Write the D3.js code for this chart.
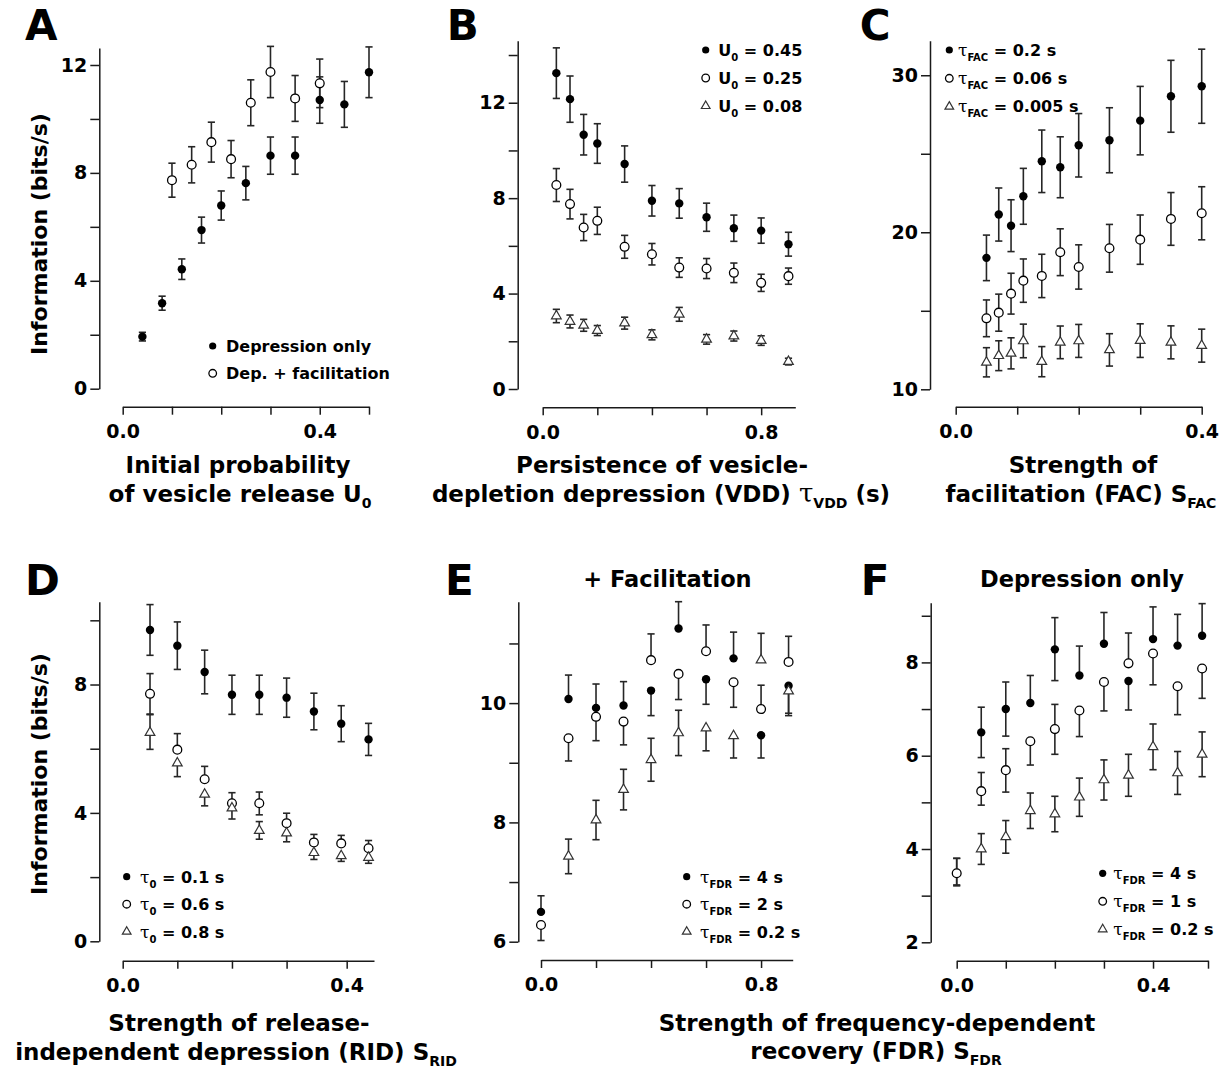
<!DOCTYPE html>
<html>
<head>
<meta charset="utf-8">
<script src="https://cdnjs.cloudflare.com/ajax/libs/d3/7.8.5/d3.min.js"></script>
<style>
body { margin: 0; background: #fff; }
svg text { font-family: "DejaVu Sans", sans-serif; font-weight: bold; fill: #000; }
</style>
</head>
<body>
<svg id="fig" width="1227" height="1080"></svg>
<script>
// ---- A: initial release probability
var xDepOnly = [0.04, 0.08, 0.12, 0.16, 0.2, 0.25, 0.3, 0.35, 0.4, 0.45, 0.5];
var depOnly = [1.93, 3.17, 4.43, 5.88, 6.79, 7.62, 8.64, 8.64, 10.70, 10.54, 11.73];
var depOnlyErr = [0.16, 0.26, 0.38, 0.48, 0.54, 0.62, 0.69, 0.69, 0.86, 0.85, 0.94];
var xDepFac = [0.1, 0.14, 0.18, 0.22, 0.26, 0.3, 0.35, 0.4];
var depFac = [7.73, 8.30, 9.14, 8.51, 10.60, 11.74, 10.76, 11.32];
var depFacErr = [0.63, 0.67, 0.74, 0.69, 0.85, 0.95, 0.85, 0.90];

// ---- B: VDD persistence
var xVdd = [0.05, 0.1, 0.15, 0.2, 0.3, 0.4, 0.5, 0.6, 0.7, 0.8, 0.9];
var u045 = [13.24, 12.15, 10.66, 10.29, 9.43, 7.89, 7.78, 7.20, 6.74, 6.64, 6.07];
var u045Err = [1.06, 0.97, 0.85, 0.83, 0.76, 0.64, 0.62, 0.59, 0.55, 0.53, 0.50];
var u025 = [8.55, 7.75, 6.77, 7.05, 5.96, 5.65, 5.09, 5.05, 4.87, 4.45, 4.73];
var u025Err = [0.69, 0.62, 0.55, 0.57, 0.48, 0.45, 0.41, 0.42, 0.41, 0.36, 0.34];
var u008 = [3.06, 2.83, 2.67, 2.45, 2.76, 2.27, 3.13, 2.08, 2.22, 2.03, 1.15];
var u008Err = [0.28, 0.27, 0.25, 0.21, 0.25, 0.21, 0.29, 0.20, 0.21, 0.20, 0.14];

// ---- C: facilitation strength
var xFac = [0.05, 0.07, 0.09, 0.11, 0.14, 0.17, 0.2, 0.25, 0.3, 0.35, 0.4];
var fac02 = [18.37, 21.13, 20.42, 22.29, 24.52, 24.14, 25.54, 25.86, 27.11, 28.66, 29.30];
var fac02Err = [1.45, 1.69, 1.65, 1.78, 1.99, 1.94, 2.02, 2.07, 2.18, 2.29, 2.36];
var fac006 = [14.52, 14.88, 16.09, 16.92, 17.22, 18.73, 17.79, 18.98, 19.53, 20.85, 21.21];
var fac006Err = [1.17, 1.18, 1.30, 1.38, 1.38, 1.49, 1.41, 1.52, 1.57, 1.68, 1.69];
var fac0005 = [11.72, 12.14, 12.29, 13.08, 11.76, 12.99, 13.08, 12.51, 13.10, 12.99, 12.78];
var fac0005Err = [0.93, 0.95, 0.99, 1.07, 0.96, 1.04, 1.05, 1.03, 1.07, 1.05, 1.05];

// ---- D: release-independent depression
var xRid = [0.05, 0.1, 0.15, 0.2, 0.25, 0.3, 0.35, 0.4, 0.45];
var rid01 = [9.70, 9.21, 8.39, 7.68, 7.68, 7.59, 7.16, 6.78, 6.29];
var rid01Err = [0.79, 0.74, 0.68, 0.61, 0.61, 0.61, 0.57, 0.56, 0.50];
var rid06 = [7.71, 5.97, 5.05, 4.30, 4.30, 3.68, 3.08, 3.05, 2.90];
var rid06Up = [0.63, 0.50, 0.40, 0.33, 0.35, 0.31, 0.25, 0.25, 0.24];
var rid06Dn = [0.63, 0, 0, 0, 0.36, 0, 0, 0, 0];
var rid08 = [6.50, 5.55, 4.58, 4.15, 3.45, 3.37, 2.76, 2.66, 2.61];
var rid08Up = [0.56, 0, 0, 0, 0.28, 0, 0, 0, 0];
var rid08Dn = [0.52, 0.42, 0.36, 0.34, 0.27, 0.27, 0.21, 0.17, 0.18];

// ---- E: FDR with facilitation
var xFdrE = [0, 0.1, 0.2, 0.3, 0.4, 0.5, 0.6, 0.7, 0.8, 0.9];
var e4 = [6.50, 10.07, 9.92, 9.96, 10.21, 11.25, 10.40, 10.75, 9.46, 10.29];
var e4Up = [0.27, 0.40, 0.40, 0.40, 0, 0.45, 0, 0.44, 0, 0];
var e4Dn = [0, 0, 0, 0, 0.42, 0, 0.42, 0, 0.38, 0.50];
var e2 = [6.28, 9.41, 9.77, 9.69, 10.72, 10.49, 10.87, 10.35, 9.90, 10.69];
var e2Up = [0, 0, 0, 0, 0.44, 0, 0.44, 0, 0.40, 0.43];
var e2Dn = [0.26, 0.38, 0.40, 0.39, 0, 0.43, 0, 0.42, 0, 0];
var xFdrE3 = [0.1, 0.2, 0.3, 0.4, 0.5, 0.6, 0.7, 0.8, 0.9];
var e02 = [7.43, 8.04, 8.55, 9.05, 9.50, 9.58, 9.45, 10.72, 10.20];
var e02Up = [0.29, 0.33, 0.34, 0.36, 0.38, 0, 0, 0.45, 0];
var e02Dn = [0.29, 0.33, 0.34, 0.36, 0.38, 0.38, 0.37, 0, 0.37];

// ---- F: FDR, depression only
var xFdrF = [0, 0.05, 0.1, 0.15, 0.2, 0.25, 0.3, 0.35, 0.4, 0.45, 0.5];
var f4 = [3.48, 6.50, 7.00, 7.13, 8.28, 7.72, 8.40, 7.60, 8.50, 8.36, 8.57];
var f4Up = [0.32, 0.54, 0.58, 0.59, 0.68, 0.63, 0.67, 0, 0.69, 0.67, 0.69];
var f4Dn = [0.27, 0.54, 0.58, 0, 0.67, 0, 0, 0.62, 0, 0, 0];
var f1 = [3.48, 5.24, 5.69, 6.31, 6.57, 6.97, 7.58, 7.98, 8.19, 7.49, 7.87];
var f1Up = [0.32, 0.40, 0.46, 0, 0.53, 0, 0, 0.65, 0, 0, 0];
var f1Dn = [0.25, 0.30, 0.47, 0.51, 0.54, 0.56, 0.62, 0, 0.67, 0.61, 0.64];
var xFdrF3 = [0.05, 0.1, 0.15, 0.2, 0.25, 0.3, 0.35, 0.4, 0.45, 0.5];
var f02 = [4.00, 4.26, 4.82, 4.75, 5.11, 5.48, 5.58, 6.19, 5.63, 6.03];
var f02Err = [0.33, 0.35, 0.38, 0.38, 0.41, 0.43, 0.45, 0.49, 0.46, 0.48];

// ---- ticks
var xTicksA = [0, 0.1, 0.2, 0.3, 0.4, 0.5], xLabelsA = ['0.0', '', '', '', '0.4', ''];
var xTicksB = [0, 0.2, 0.4, 0.6, 0.8], xLabelsB = ['0.0', '', '', '', '0.8'];
var xTicksC = [0, 0.1, 0.2, 0.3, 0.4], xLabelsC = ['0.0', '', '', '', '0.4'];
var xTicksD = [0, 0.1, 0.2, 0.3, 0.41], xLabelsD = ['0.0', '', '', '', '0.4'];
var xTicksE = [0, 0.2, 0.4, 0.6, 0.8], xLabelsE = ['0.0', '', '', '', '0.8'];
var xTicksF = [0, 0.1, 0.2, 0.3, 0.4, 0.512], xLabelsF = ['0.0', '', '', '', '0.4', ''];
var yTicksA = [0, 2, 4, 6, 8, 10, 12], yLabelsA = [0, 4, 8, 12];
var yTicksB = [0, 2, 4, 6, 8, 10, 12, 14], yLabelsB = [0, 4, 8, 12];
var yTicksC = [10, 15, 20, 25, 30], yLabelsC = [10, 20, 30];
var yTicksD = [0, 2, 4, 6, 8, 10], yLabelsD = [0, 4, 8];
var yTicksE = [6, 7, 8, 9, 10, 11], yLabelsE = [6, 8, 10];
var yTicksF = [2, 3, 4, 5, 6, 7, 8, 9], yLabelsF = [2, 4, 6, 8];

function S(x, y, up, dn, shape, label) {
    return { x: x, y: y, up: up, dn: dn || up, shape: shape, label: label };
}
// legend label with a thin serif tau and a small subscript
function tau(sub, rest) {
    return [{ t: '\u03c4', font: '"DejaVu Serif", serif', size: 17 }, { t: sub, sub: true }, { t: rest }];
}

var panels = [
    { letter: 'A', x0: 122.7, x1: 369, yTop: 48, yBot: 388.7, yAxisX: 99.3, xAxisY: 406.7,
      xDomain: [0, 0.5], yDomain: [0, 12.63], xTicks: xTicksA, xLabels: xLabelsA, yTicks: yTicksA, yLabels: yLabelsA,
      legend: { x: 212.7, y: 346, step: 27.3, tx: 226 },
      series: [S(xDepOnly, depOnly, depOnlyErr, null, 'dot', [{ t: 'Depression only' }]),
               S(xDepFac, depFac, depFacErr, null, 'ring', [{ t: 'Dep. + facilitation' }])] },
    { letter: 'B', x0: 542.7, x1: 795.3, yTop: 40.7, yBot: 389, yAxisX: 517.7, xAxisY: 407.3,
      xDomain: [0, 0.925], yDomain: [0, 14.6], xTicks: xTicksB, xLabels: xLabelsB, yTicks: yTicksB, yLabels: yLabelsB,
      legend: { x: 705.7, y: 50, step: 28, tx: 718.3 },
      series: [S(xVdd, u045, u045Err, null, 'dot', [{ t: 'U' }, { t: '0', sub: true }, { t: ' = 0.45' }]),
               S(xVdd, u025, u025Err, null, 'ring', [{ t: 'U' }, { t: '0', sub: true }, { t: ' = 0.25' }]),
               S(xVdd, u008, u008Err, null, 'tri', [{ t: 'U' }, { t: '0', sub: true }, { t: ' = 0.08' }])] },
    { letter: 'C', x0: 955.7, x1: 1201.7, yTop: 40.7, yBot: 389.3, yAxisX: 930, xAxisY: 406.7,
      xDomain: [0, 0.4], yDomain: [10, 32.2], xTicks: xTicksC, xLabels: xLabelsC, yTicks: yTicksC, yLabels: yLabelsC,
      legend: { x: 949.3, y: 50, step: 28.3, tx: 958 },
      series: [S(xFac, fac02, fac02Err, null, 'dot', tau('FAC', ' = 0.2 s')),
               S(xFac, fac006, fac006Err, null, 'ring', tau('FAC', ' = 0.06 s')),
               S(xFac, fac0005, fac0005Err, null, 'tri', tau('FAC', ' = 0.005 s'))] },
    { letter: 'D', x0: 122.7, x1: 374, yTop: 601.7, yBot: 941.3, yAxisX: 99.3, xAxisY: 960.7,
      xDomain: [0, 0.46], yDomain: [0, 10.58], xTicks: xTicksD, xLabels: xLabelsD, yTicks: yTicksD, yLabels: yLabelsD,
      legend: { x: 126.7, y: 876.7, step: 27.5, tx: 140 },
      series: [S(xRid, rid01, rid01Err, null, 'dot', tau('0', ' = 0.1 s')),
               S(xRid, rid06, rid06Up, rid06Dn, 'ring', tau('0', ' = 0.6 s')),
               S(xRid, rid08, rid08Up, rid08Dn, 'tri', tau('0', ' = 0.8 s'))] },
    { letter: 'E', x0: 541, x1: 792.7, yTop: 601.7, yBot: 941.7, yAxisX: 518.3, xAxisY: 960,
      xDomain: [0, 0.915], yDomain: [6, 11.7], xTicks: xTicksE, xLabels: xLabelsE, yTicks: yTicksE, yLabels: yLabelsE,
      title: '+ Facilitation', titleX: 667.5,
      legend: { x: 686.7, y: 876.7, step: 27.5, tx: 700 },
      series: [S(xFdrE, e4, e4Up, e4Dn, 'dot', tau('FDR', ' = 4 s')),
               S(xFdrE, e2, e2Up, e2Dn, 'ring', tau('FDR', ' = 2 s')),
               S(xFdrE3, e02, e02Up, e02Dn, 'tri', tau('FDR', ' = 0.2 s'))] },
    { letter: 'F', x0: 956.7, x1: 1208, yTop: 602.7, yBot: 942.3, yAxisX: 930.7, xAxisY: 960.7,
      xDomain: [0, 0.512], yDomain: [2, 9.28], xTicks: xTicksF, xLabels: xLabelsF, yTicks: yTicksF, yLabels: yLabelsF,
      title: 'Depression only', titleX: 1082,
      legend: { x: 1102.7, y: 873.3, step: 28, tx: 1113.3 },
      series: [S(xFdrF, f4, f4Up, f4Dn, 'dot', tau('FDR', ' = 4 s')),
               S(xFdrF, f1, f1Up, f1Dn, 'ring', tau('FDR', ' = 1 s')),
               S(xFdrF3, f02, f02Err, null, 'tri', tau('FDR', ' = 0.2 s'))] }
];

var svg = d3.select('#fig');
svg.append('rect').attr('width', 1227).attr('height', 1080).attr('fill', '#fff');

function triPath(r) {
    var h = r * Math.sqrt(3) / 2;
    return 'M0,' + (-r) + 'L' + h + ',' + (r / 2) + 'L' + (-h) + ',' + (r / 2) + 'Z';
}

function marker(g, shape, cx, cy, small) {
    if (shape === 'dot') {
        g.append('circle').attr('cx', cx).attr('cy', cy).attr('r', small ? 3.6 : 4.2).attr('fill', '#000');
    } else if (shape === 'ring') {
        g.append('circle').attr('cx', cx).attr('cy', cy).attr('r', small ? 3.8 : 4.4)
            .attr('fill', '#fff').attr('stroke', '#000').attr('stroke-width', 1.3);
    } else {
        g.append('path').attr('d', triPath(small ? 5 : 5.6))
            .attr('transform', 'translate(' + cx + ',' + cy + ')')
            .attr('fill', '#fff').attr('stroke', '#333').attr('stroke-width', 1.2);
    }
}

// text made of pieces, with subscripts lowered
function addParts(text, parts, size, subSize, shift) {
    var down = false;
    parts.forEach(function (p) {
        var ts = text.append('tspan').text(p.t);
        if (p.sub) {
            ts.attr('font-size', subSize).attr('dy', down ? 0 : shift);
            down = true;
        } else {
            ts.attr('font-size', p.size || size).attr('dy', down ? -shift : 0);
            down = false;
        }
        if (p.font) ts.attr('font-family', p.font).style('font-weight', p.weight || 'normal');
    });
}

function styleAxis(a) {
    a.select('.domain').attr('stroke', '#1a1a1a').attr('stroke-width', 1.5);
    a.selectAll('.tick line').attr('stroke', '#1a1a1a').attr('stroke-width', 1.5);
    a.selectAll('.tick text').attr('font-size', 19).attr('fill', '#000')
        .attr('font-family', null);
}

function drawPanel(p) {
    var g = svg.append('g');
    var x = d3.scaleLinear().domain(p.xDomain).range([p.x0, p.x1]);
    var y = d3.scaleLinear().domain(p.yDomain).range([p.yBot, p.yTop]);

    var yAxis = d3.axisLeft(y).tickValues(p.yTicks).tickSize(9).tickSizeOuter(0).tickPadding(3)
        .tickFormat(function (d) { return p.yLabels.indexOf(d) >= 0 ? d : ''; });
    g.append('g').attr('transform', 'translate(' + p.yAxisX + ',0)').call(yAxis).call(styleAxis);

    var xAxis = d3.axisBottom(x).tickValues(p.xTicks).tickSize(8).tickSizeOuter(0).tickPadding(10)
        .tickFormat(function (d, i) { return p.xLabels[i]; });
    g.append('g').attr('transform', 'translate(0,' + p.xAxisY + ')').call(xAxis).call(styleAxis);

    // error bars under the markers
    p.series.forEach(function (s) {
        s.y.forEach(function (v, i) {
            var cx = x(s.x[i]);
            var hi = v + s.up[i], lo = v - s.dn[i];
            g.append('line').attr('x1', cx).attr('x2', cx).attr('y1', y(lo)).attr('y2', y(hi))
                .attr('stroke', '#262626').attr('stroke-width', 1.6);
            if (s.up[i] > 0) {
                g.append('line').attr('x1', cx - 3.6).attr('x2', cx + 3.6).attr('y1', y(hi)).attr('y2', y(hi))
                    .attr('stroke', '#262626').attr('stroke-width', 1.6);
            }
            if (s.dn[i] > 0) {
                g.append('line').attr('x1', cx - 3.6).attr('x2', cx + 3.6).attr('y1', y(lo)).attr('y2', y(lo))
                    .attr('stroke', '#262626').attr('stroke-width', 1.6);
            }
        });
    });
    p.series.forEach(function (s) {
        s.y.forEach(function (v, i) { marker(g, s.shape, x(s.x[i]), y(v), false); });
    });

    // legend
    p.series.forEach(function (s, k) {
        var ly = p.legend.y + k * p.legend.step;
        marker(g, s.shape, p.legend.x, ly, true);
        var t = g.append('text').attr('x', p.legend.tx).attr('y', ly + 5.8);
        addParts(t, s.label, 16, 10, 5);
    });

    svg.append('text').attr('x', p.letter === 'A' || p.letter === 'D' ? 25 : p.x0 - 96)
        .attr('y', p.yTop < 300 ? 40 : 595)
        .attr('font-size', 42).attr('font-family', '"Liberation Sans", Arial, sans-serif')
        .text(p.letter);

    if (p.title) {
        svg.append('text').attr('x', p.titleX).attr('y', 587).attr('text-anchor', 'middle')
            .attr('font-size', 22.5).text(p.title);
    }
}

panels.forEach(drawPanel);

// axis titles
function title(cx, y, parts) {
    var t = svg.append('text').attr('x', cx).attr('y', y).attr('text-anchor', 'middle');
    addParts(t, parts, 23, 14, 6);
}
var tauBig = { t: '\u03c4', font: '"DejaVu Serif", serif', size: 26 };
title(238, 473, [{ t: 'Initial probability' }]);
title(240, 502, [{ t: 'of vesicle release U' }, { t: '0', sub: true }]);
title(662, 473, [{ t: 'Persistence of vesicle-' }]);
title(661, 502, [{ t: 'depletion depression (VDD) ' }, tauBig, { t: 'VDD', sub: true }, { t: ' (s)' }]);
title(1083, 473, [{ t: 'Strength of' }]);
title(1081, 502, [{ t: 'facilitation (FAC) S' }, { t: 'FAC', sub: true }]);
title(239, 1031, [{ t: 'Strength of release-' }]);
title(236, 1060, [{ t: 'independent depression (RID) S' }, { t: 'RID', sub: true }]);
title(877, 1031, [{ t: 'Strength of frequency-dependent' }]);
title(876, 1059, [{ t: 'recovery (FDR) S' }, { t: 'FDR', sub: true }]);

[234, 774].forEach(function (cy) {
    svg.append('text').attr('transform', 'translate(47,' + cy + ') rotate(-90)')
        .attr('text-anchor', 'middle').attr('font-size', 22).text('Information (bits/s)');
});
</script>
</body>
</html>
